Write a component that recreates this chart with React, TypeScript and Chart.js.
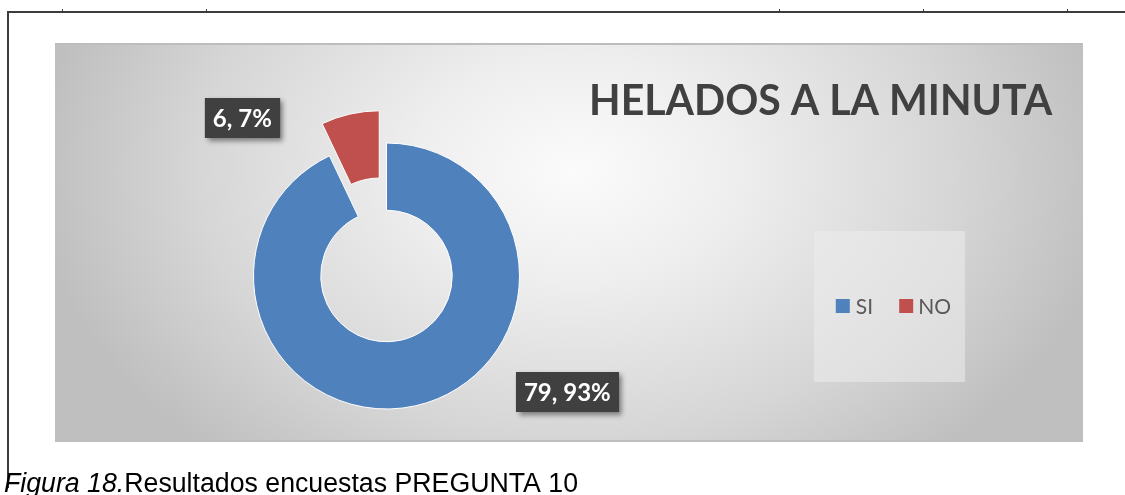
import React, { useEffect, useRef } from 'react';
import { Chart, registerables } from 'chart.js';

Chart.register(...registerables);

// ---- data ----
const categories: string[] = ['SI', 'NO'];
const values: number[] = [79, 6];
const sliceColors: string[] = ['#4F81BD', '#C0504D'];
const chartTitle = 'HELADOS A LA MINUTA';
const captionItalic = 'Figura 18.';
const captionRegular = 'Resultados encuestas PREGUNTA 10';

// ---- styling / layout ----
const explodeDist: number[] = [0, 33];
const labelDx: number[] = [181, -144];
const labelDy: number[] = [116, -158];

const W = 1125;
const H = 495;
const panel = { x0: 55, y0: 43, x1: 1083, y1: 442 };

function fitText(ctx: CanvasRenderingContext2D, text: string, left: number, baseline: number, target: number) {
  const m = ctx.measureText(text);
  const ink = m.actualBoundingBoxLeft + m.actualBoundingBoxRight;
  const s = target / ink;
  ctx.save();
  ctx.translate(left, baseline);
  ctx.scale(s, 1);
  ctx.textAlign = 'left';
  ctx.textBaseline = 'alphabetic';
  ctx.fillText(text, m.actualBoundingBoxLeft, 0);
  ctx.restore();
}

export default function App() {
  const ref = useRef<HTMLCanvasElement>(null);

  useEffect(() => {
    const canvas = ref.current!;
    const total = values.reduce((a, b) => a + b, 0);

    const pagePlugin = {
      id: 'pagePlugin',
      afterDatasetsUpdate(chart: any) {
        const meta = chart.getDatasetMeta(0);
        meta.data.forEach((arc: any, i: number) => {
          const d = explodeDist[i];
          if (!d) return;
          const half = (arc.startAngle + arc.endAngle) / 2;
          arc.x += Math.cos(half) * d;
          arc.y += Math.sin(half) * d;
        });
      },
      beforeDraw(chart: any) {
        const ctx: CanvasRenderingContext2D = chart.ctx;
        ctx.save();
        ctx.fillStyle = '#ffffff';
        ctx.fillRect(0, 0, W, H);

        // page lines
        ctx.fillStyle = '#3c3c3c';
        ctx.fillRect(7, 11, W - 7, 2);
        ctx.fillRect(7, 11, 2, 477);
        [62, 206, 779, 923, 1067].forEach((x) => ctx.fillRect(x, 9, 1, 3));

        // panel gradient
        const cx = 575, cy = 170, rx = 540, ry = 380;
        ctx.save();
        ctx.beginPath();
        ctx.rect(panel.x0, panel.y0, panel.x1 - panel.x0, panel.y1 - panel.y0);
        ctx.clip();
        ctx.translate(cx, cy);
        ctx.scale(1, ry / rx);
        const g = ctx.createRadialGradient(0, 0, 0, 0, 0, rx);
        g.addColorStop(0, '#fbfbfb');
        g.addColorStop(0.3, '#eeeeee');
        g.addColorStop(0.7, '#d6d6d6');
        g.addColorStop(1, '#bfbfbf');
        ctx.fillStyle = g;
        ctx.fillRect(-2000, -2000, 4000, 4000);
        ctx.restore();
        ctx.fillStyle = '#bdbdbd';
        ctx.fillRect(panel.x0, panel.y0, panel.x1 - panel.x0, 2);
        ctx.fillRect(panel.x0, panel.y1 - 2, panel.x1 - panel.x0, 2);

        // title
        ctx.fillStyle = '#404040';
        ctx.font = 'bold 42px Lato';
        fitText(ctx, chartTitle, 592, 115, 461);

        // legend box
        ctx.fillStyle = 'rgba(236,236,236,0.55)';
        ctx.fillRect(814, 231, 151, 151);
        ctx.font = '21px Lato';
        const sq = 14, gapT = 6, gapItem = 28;
        const widths = categories.map((c) => {
          const m = ctx.measureText(c);
          return m.actualBoundingBoxLeft + m.actualBoundingBoxRight;
        });
        const rowW = widths.reduce((a, w) => a + sq + gapT + w, 0) + gapItem * (categories.length - 1);
        let x = 893 - rowW / 2;
        const rowMid = 306;
        categories.forEach((c, i) => {
          ctx.fillStyle = sliceColors[i];
          ctx.fillRect(x, rowMid - sq / 2, sq, sq);
          x += sq + gapT;
          ctx.fillStyle = '#595959';
          ctx.textBaseline = 'alphabetic';
          const m = ctx.measureText(c);
          ctx.fillText(c, x + m.actualBoundingBoxLeft, rowMid + 7.5);
          x += widths[i] + gapItem;
        });
        ctx.restore();
      },
      afterDraw(chart: any) {
        const ctx: CanvasRenderingContext2D = chart.ctx;
        const meta = chart.getDatasetMeta(0);
        const center = meta.data[0];
        ctx.save();
        ctx.font = 'bold 24px Lato';
        values.forEach((v, i) => {
          const pct = Math.round((v / total) * 100);
          const text = `${v}, ${pct}%`;
          const m = ctx.measureText(text);
          const ink = m.actualBoundingBoxLeft + m.actualBoundingBoxRight;
          const bw = ink + 18, bh = 40;
          const lx = center.x + labelDx[i];
          const ly = center.y + labelDy[i];
          ctx.save();
          ctx.shadowColor = 'rgba(0,0,0,0.45)';
          ctx.shadowBlur = 5;
          ctx.shadowOffsetX = 3;
          ctx.shadowOffsetY = 3;
          ctx.fillStyle = '#404040';
          ctx.fillRect(lx - bw / 2, ly - bh / 2, bw, bh);
          ctx.restore();
          ctx.fillStyle = '#ffffff';
          ctx.textBaseline = 'alphabetic';
          ctx.fillText(text, lx - ink / 2 + m.actualBoundingBoxLeft, ly + 9);
        });

        // caption
        ctx.fillStyle = '#000000';
        const fsz = 27;
        ctx.font = `italic ${fsz}px "Liberation Sans"`;
        const w1 = ctx.measureText(captionItalic).width;
        ctx.font = `${fsz}px "Liberation Sans"`;
        const w2 = ctx.measureText(captionRegular).width;
        const s = 574 / (w1 + w2);
        ctx.translate(4, 492);
        ctx.scale(s, 1);
        ctx.font = `italic ${fsz}px "Liberation Sans"`;
        ctx.fillText(captionItalic, 0, 0);
        ctx.font = `${fsz}px "Liberation Sans"`;
        ctx.fillText(captionRegular, w1, 0);
        ctx.restore();
      },
    };

    const chart = new Chart(canvas, {
      type: 'doughnut',
      data: {
        labels: categories,
        datasets: [
          {
            data: values,
            backgroundColor: sliceColors,
            borderColor: '#ffffff',
            borderWidth: 1,
          },
        ],
      },
      options: {
        responsive: false,
        animation: false,
        events: [],
        radius: 133,
        cutout: 67,
        layout: { padding: { left: 240, right: 592, top: 140, bottom: 83 } },
        plugins: {
          legend: { display: false },
          title: { display: false },
          tooltip: { enabled: false },
        },
      } as any,
      plugins: [pagePlugin],
    });
    return () => chart.destroy();
  }, []);

  return (
    <div style={{ position: 'fixed', left: 0, top: 0, width: W, height: H }}>
      <canvas ref={ref} width={W} height={H} style={{ display: 'block' }} />
    </div>
  );
}
